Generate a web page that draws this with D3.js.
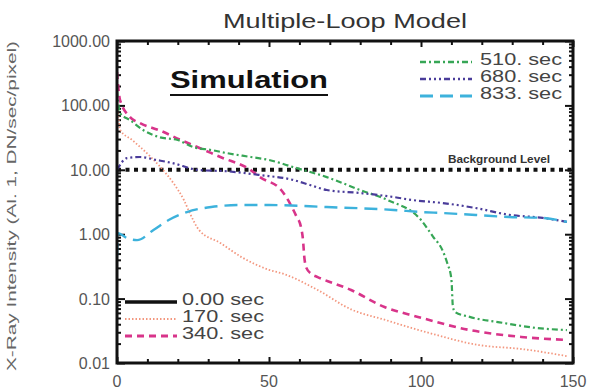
<!DOCTYPE html>
<html lang="en">
<head>
<meta charset="UTF-8">
<title>Multiple-Loop Model</title>
<script src="https://d3js.org/d3.v7.min.js"></script>
<style>
body { margin: 0; background: #fff; }
text { font-family: 'Liberation Sans', Arial, sans-serif; }
</style>
</head>
<body>
<svg id="chart" width="602" height="391"></svg>
<script>
// series (x = position, y = intensity)
const x000 = [];
const y000 = [];
const x170 = [0, 1, 5, 11, 16, 19, 22, 24, 27, 34, 41, 50, 55, 66, 77, 88, 103, 119, 133, 148];
const y170 = [145, 42, 29, 16, 8.9, 5.8, 3.4, 2.1, 1.16, 0.73, 0.44, 0.28, 0.24, 0.136, 0.068, 0.047, 0.029, 0.019, 0.0165, 0.0128];
const x340 = [0, 1, 4.3, 7.6, 14, 21, 26, 34, 44, 47, 54, 59, 60.5, 61.2, 61.6, 62.3, 64, 66, 77, 88, 99, 116, 133, 148];
const y340 = [330, 121, 66, 53, 41, 29, 23, 15.8, 9.9, 7.7, 4.85, 1.9, 1.3, 0.8, 0.45, 0.3, 0.24, 0.216, 0.136, 0.074, 0.052, 0.0325, 0.0254, 0.0228];
const x510 = [0, 1, 4.3, 8.6, 14, 20, 25, 31, 36, 44, 50, 58, 69, 80, 89, 100, 104, 107, 108.6, 110, 110.5, 111.2, 116, 127, 138, 148];
const y510 = [170, 76, 59, 41.5, 32, 29, 22.6, 20.3, 18.2, 15.8, 14.2, 11, 7.7, 4.85, 3.4, 1.66, 0.91, 0.57, 0.36, 0.2, 0.074, 0.062, 0.052, 0.042, 0.035, 0.0325];
const x680 = [0, 3.3, 7.6, 13, 18, 27, 36, 47, 58, 63.5, 69, 80, 91, 97, 107, 118, 129, 140, 148];
const y680 = [10, 15.2, 15.8, 14.2, 12.8, 9.9, 9.5, 8.3, 6.95, 5.8, 4.85, 4.36, 3.78, 3.4, 3.05, 2.55, 2.0, 1.79, 1.55];
const x833 = [0, 0.3, 3.3, 6.6, 12, 17, 23, 31, 41, 50, 69, 91, 100, 107, 118, 129, 140, 148];
const y833 = [0.45, 1.04, 0.87, 0.81, 1.16, 1.66, 2.21, 2.64, 2.84, 2.84, 2.64, 2.38, 2.21, 2.13, 1.99, 1.85, 1.79, 1.55];
const backgroundLevel = 10;

const seriesNames = ['0.00 sec', '170. sec', '340. sec', '510. sec', '680. sec', '833. sec'];
const xTicks = [0, 50, 100, 150];
const yTicks = [0.01, 0.1, 1, 10, 100, 1000];
const yTickLabels = ['0.01', '0.10', '1.00', '10.00', '100.00', '1000.00'];

const svg = d3.select('#chart');
const L = 117, T = 41, R = 573, B = 363;

const x = d3.scaleLinear().domain([0, 150]).range([L, R]);
const y = d3.scaleLog().domain([0.01, 1000]).range([B, T]);

const styles = [
  { color: '#111', dash: null, width: 3 },
  { color: '#f3977f', dash: '1.5,2', width: 1.8 },
  { color: '#d8348a', dash: '7,5', width: 2.6 },
  { color: '#37a656', dash: '6,3,2,3', width: 2.2 },
  { color: '#4a3c9a', dash: '6,3,2,3,2,3,2,3', width: 2.2 },
  { color: '#3db2dc', dash: '13,7', width: 2.4 }
];
const xs = [x000, x170, x340, x510, x680, x833];
const ys = [y000, y170, y340, y510, y680, y833];

svg.append('defs').append('clipPath').attr('id', 'plot')
  .append('rect').attr('x', L).attr('y', T).attr('width', R - L).attr('height', B - T);

// title
svg.append('text').attr('x', 345).attr('y', 28).attr('text-anchor', 'middle')
  .attr('font-size', 20).attr('fill', '#333')
  .attr('textLength', 244).attr('lengthAdjust', 'spacingAndGlyphs')
  .text('Multiple-Loop Model');

// y label
svg.append('text').attr('transform', 'translate(16,206) rotate(-90)')
  .attr('text-anchor', 'middle').attr('font-size', 13).attr('fill', '#666')
  .attr('textLength', 330).attr('lengthAdjust', 'spacingAndGlyphs')
  .text('X-Ray Intensity (Al. 1, DN/sec/pixel)');

// minor tick values
const yMinor = [];
for (let d = -2; d < 3; d++) for (let m = 2; m <= 9; m++) yMinor.push(m * Math.pow(10, d));
const xMinor = d3.range(0, 151, 10).filter(v => v % 50 !== 0);

const axes = svg.append('g').attr('stroke', '#111');
axes.append('g').attr('transform', `translate(${L},0)`)
  .call(d3.axisLeft(y).tickValues(yTicks).tickSize(-8).tickFormat(''));
axes.append('g').attr('transform', `translate(${L},0)`)
  .call(d3.axisLeft(y).tickValues(yMinor).tickSize(-4).tickFormat(''));
axes.append('g').attr('transform', `translate(${R},0)`)
  .call(d3.axisRight(y).tickValues(yTicks).tickSize(-8).tickFormat(''));
axes.append('g').attr('transform', `translate(${R},0)`)
  .call(d3.axisRight(y).tickValues(yMinor).tickSize(-4).tickFormat(''));
axes.append('g').attr('transform', `translate(0,${B})`)
  .call(d3.axisBottom(x).tickValues(xTicks).tickSize(-6).tickFormat(''));
axes.append('g').attr('transform', `translate(0,${B})`)
  .call(d3.axisBottom(x).tickValues(xMinor).tickSize(-4).tickFormat(''));
axes.append('g').attr('transform', `translate(0,${T})`)
  .call(d3.axisTop(x).tickValues(xTicks).tickSize(-6).tickFormat(''));
axes.append('g').attr('transform', `translate(0,${T})`)
  .call(d3.axisTop(x).tickValues(xMinor).tickSize(-4).tickFormat(''));
axes.selectAll('.domain').remove();
axes.selectAll('line').attr('stroke', '#111').attr('stroke-width', 2);

// tick labels
svg.append('g').selectAll('text').data(yTicks).join('text')
  .attr('x', 110).attr('y', d => y(d) + 6).attr('text-anchor', 'end')
  .attr('font-size', 16).attr('fill', '#555')
  .text((d, i) => yTickLabels[i]);
svg.append('g').selectAll('text').data(xTicks).join('text')
  .attr('x', d => x(d)).attr('y', 387).attr('text-anchor', 'middle')
  .attr('font-size', 16).attr('fill', '#555')
  .text(d => d);

// background level
svg.append('line')
  .attr('x1', x(0)).attr('x2', x(150)).attr('y1', y(backgroundLevel)).attr('y2', y(backgroundLevel))
  .attr('stroke', '#111').attr('stroke-width', 4).attr('stroke-dasharray', '4,4.5');
svg.append('text').attr('x', 550).attr('y', y(backgroundLevel) - 7).attr('text-anchor', 'end')
  .attr('font-family', "'Liberation Serif', serif").attr('font-size', 10).attr('font-weight', 'bold')
  .attr('fill', '#333').attr('textLength', 102).attr('lengthAdjust', 'spacingAndGlyphs')
  .text('Background Level');

// curves
const line = d3.line().x(d => x(d[0])).y(d => y(d[1])).curve(d3.curveMonotoneX);
const curves = svg.append('g').attr('clip-path', 'url(#plot)');
seriesNames.forEach((name, i) => {
  if (!xs[i].length) return;
  curves.append('path')
    .datum(xs[i].map((v, j) => [v, ys[i][j]]))
    .attr('d', line).attr('fill', 'none')
    .attr('stroke', styles[i].color).attr('stroke-width', styles[i].width)
    .attr('stroke-dasharray', styles[i].dash);
});

// frame
svg.append('rect').attr('x', L).attr('y', T).attr('width', R - L).attr('height', B - T)
  .attr('fill', 'none').attr('stroke', '#111').attr('stroke-width', 3);

// "Simulation"
svg.append('text').attr('x', 170).attr('y', 88).attr('font-size', 24).attr('font-weight', 'bold')
  .attr('fill', '#111').attr('textLength', 158).attr('lengthAdjust', 'spacingAndGlyphs')
  .text('Simulation');
svg.append('line').attr('x1', 170).attr('x2', 328).attr('y1', 95).attr('y2', 95)
  .attr('stroke', '#111').attr('stroke-width', 2);

// legends
const legendPos = [
  { lx: 125, tx: 182, y: 302 }, { lx: 125, tx: 182, y: 319 }, { lx: 125, tx: 182, y: 336 },
  { lx: 420, tx: 480, y: 62 }, { lx: 420, tx: 480, y: 79 }, { lx: 420, tx: 480, y: 96 }
];
seriesNames.forEach((name, i) => {
  const p = legendPos[i];
  svg.append('line').attr('x1', p.lx).attr('x2', p.lx + 52).attr('y1', p.y).attr('y2', p.y)
    .attr('stroke', styles[i].color).attr('stroke-width', styles[i].width + 0.4)
    .attr('stroke-dasharray', styles[i].dash);
  svg.append('text').attr('x', p.tx).attr('y', p.y + 3).attr('font-size', 16).attr('fill', '#444')
    .attr('textLength', 82).attr('lengthAdjust', 'spacingAndGlyphs')
    .text(name);
});
</script>
</body>
</html>
